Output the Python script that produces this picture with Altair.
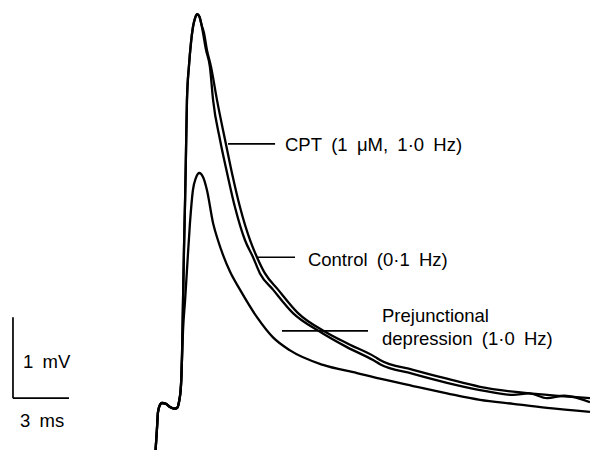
import altair as alt
import pandas as pd

# Time (ms) and membrane potential (mV)
foot_t = [0.27, 0.37, 0.43, 0.54, 0.64, 0.86, 1.07, 1.29, 1.45, 1.55, 1.66, 1.71]
foot_v = [-0.68, -0.33, -0.11, -0.02, 0.00, -0.01, -0.05, -0.07, -0.06, 0.01, 0.22, 0.53]

rise_t = [1.77, 1.82, 1.88, 1.93, 1.98, 2.09, 2.20, 2.30, 2.41, 2.53, 2.65, 2.76]
rise_v = [1.27, 1.89, 2.51, 3.12, 3.74, 4.17, 4.46, 4.64, 4.75, 4.80, 4.77, 4.67]

cpt_t = [2.89, 3.05, 3.27, 3.59, 4.02, 4.39, 4.82, 5.36, 5.73, 6.16, 6.86, 7.93, 9.38,
         10.71, 12.05, 12.32, 14.09, 15.91, 17.68, 19.45, 21.27, 23.57]
cpt_v = [4.57, 4.36, 4.15, 3.74, 3.25, 2.84, 2.42, 2.01, 1.80, 1.60, 1.40, 1.11, 0.88,
         0.72, 0.57, 0.53, 0.41, 0.30, 0.20, 0.14, 0.10, 0.06]

ctrl_t = [2.84, 3.00, 3.21, 3.38, 3.75, 4.13, 4.55, 5.09, 5.52, 5.89, 6.59, 7.66, 9.11,
          10.55, 11.95, 12.32, 14.09, 15.91, 17.68, 19.45, 20.30, 21.27, 22.20, 23.57]
ctrl_v = [4.57, 4.36, 4.15, 3.74, 3.25, 2.84, 2.42, 2.01, 1.80, 1.60, 1.40, 1.11, 0.88,
          0.69, 0.53, 0.48, 0.36, 0.25, 0.16, 0.10, 0.12, 0.06, 0.09, 0.01]

pre_t = [1.77, 1.88, 1.98, 2.14, 2.30, 2.46, 2.64, 2.84, 3.05, 3.38, 3.64, 3.91, 4.29,
         4.82, 5.73, 6.59, 7.50, 9.27, 11.09, 12.32, 14.09, 15.91, 17.68, 19.45, 21.27, 23.57]
pre_v = [0.90, 1.27, 1.64, 2.22, 2.63, 2.78, 2.84, 2.79, 2.63, 2.22, 2.01, 1.83, 1.62,
         1.40, 1.06, 0.81, 0.65, 0.47, 0.37, 0.30, 0.21, 0.12, 0.04, -0.01, -0.06, -0.11]

S = "\u2002"  # wide word space as in the printed figure
labels = [f"CPT{S}(1{S}\u03bcM,{S}1\u00b70{S}Hz)", f"Control{S}(0\u00b71{S}Hz)",
          "Prejunctional", f"depression{S}(1\u00b70{S}Hz)"]
bar_labels = [f"1{S}mV", f"3{S}ms"]

rows = []
def add(name, ts, vs):
    for i, (t, v) in enumerate(zip(ts, vs)):
        rows.append({"trace": name, "t": t, "v": v, "i": i})

add("CPT", foot_t + rise_t + cpt_t, foot_v + rise_v + cpt_v)
add("Control", foot_t + rise_t + ctrl_t, foot_v + rise_v + ctrl_v)
add("Prejunctional", foot_t + pre_t, foot_v + pre_v)
df = pd.DataFrame(rows)

xs = alt.Scale(domain=[-7.607, 23.571], nice=False, zero=False)
ys = alt.Scale(domain=[-0.580, 4.877], nice=False, zero=False)

traces = alt.Chart(df).mark_line(
    color="black", strokeWidth=2.3, clip=True, interpolate="monotone"
).encode(
    x=alt.X("t:Q", scale=xs, axis=None),
    y=alt.Y("v:Q", scale=ys, axis=None),
    detail="trace:N",
    order="i:Q",
)

# leader lines and scale bars (annotation geometry)
lead = pd.DataFrame({
    "x1": [4.18, 5.73, 7.07, -7.34, -7.34],
    "x2": [6.70, 7.77, 11.68, -7.34, -4.34],
    "y1": [3.20, 1.80, 0.89, 1.06, 0.06],
    "y2": [3.20, 1.80, 0.89, 0.06, 0.06],
})
rules = alt.Chart(lead).mark_rule(color="black", strokeWidth=1.7).encode(
    x=alt.X("x1:Q", scale=xs, axis=None), x2="x2:Q",
    y=alt.Y("y1:Q", scale=ys, axis=None), y2="y2:Q",
)

txt = pd.DataFrame({
    "x": [7.23, 8.46, 12.43, 12.43, -6.80, -6.96],
    "y": [3.11, 1.69, 1.00, 0.716, 0.43, -0.30],
    "label": labels + bar_labels,
})
texts = alt.Chart(txt).mark_text(
    align="left", baseline="alphabetic", font="Liberation Sans", fontSize=18.5, color="black"
).encode(
    x=alt.X("x:Q", scale=xs, axis=None),
    y=alt.Y("y:Q", scale=ys, axis=None),
    text="label:N",
)

chart = alt.layer(traces, rules, texts).properties(
    width=582, height=442, padding=0, autosize=alt.AutoSizeParams(type="none")
).configure_view(stroke=None)

chart.save("out.html", embed_options={"renderer": "svg", "actions": False})
